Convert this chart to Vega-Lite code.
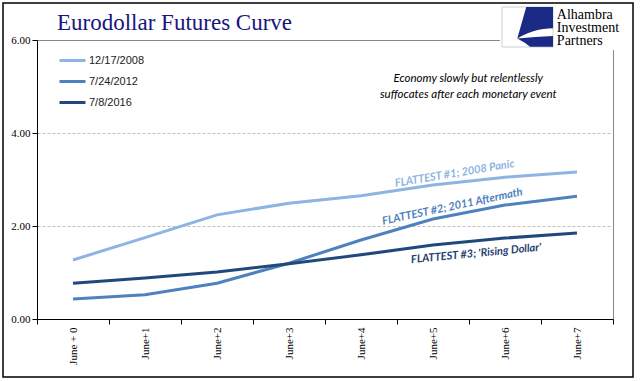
{
  "$schema": "https://vega.github.io/schema/vega-lite/v6.json",
  "width": 576,
  "height": 279,
  "autosize": "none",
  "padding": {"left": 37, "top": 40, "right": 28, "bottom": 62},
  "background": "white",
  "title": {
    "text": "Eurodollar Futures Curve",
    "anchor": "start",
    "frame": "group",
    "dx": 20,
    "dy": 63,
    "offset": 12,
    "baseline": "alphabetic",
    "font": "Liberation Serif",
    "fontSize": 23,
    "fontWeight": "normal",
    "color": "#16167e"
  },
  "config": {
    "view": {"stroke": "#868686", "strokeWidth": 1},
    "axis": {"labelFont": "Liberation Serif", "labelFontSize": 11, "labelColor": "#000000"}
  },
  "layer": [
    {
      "data": {
        "values": [
          {"date": "12/17/2008", "contract": "June + 0", "rate": 1.27},
          {"date": "12/17/2008", "contract": "June+1", "rate": 1.75},
          {"date": "12/17/2008", "contract": "June+2", "rate": 2.24},
          {"date": "12/17/2008", "contract": "June+3", "rate": 2.49},
          {"date": "12/17/2008", "contract": "June+4", "rate": 2.65},
          {"date": "12/17/2008", "contract": "June+5", "rate": 2.88},
          {"date": "12/17/2008", "contract": "June+6", "rate": 3.05},
          {"date": "12/17/2008", "contract": "June+7", "rate": 3.16},
          {"date": "7/24/2012", "contract": "June + 0", "rate": 0.43},
          {"date": "7/24/2012", "contract": "June+1", "rate": 0.52},
          {"date": "7/24/2012", "contract": "June+2", "rate": 0.77},
          {"date": "7/24/2012", "contract": "June+3", "rate": 1.2},
          {"date": "7/24/2012", "contract": "June+4", "rate": 1.7},
          {"date": "7/24/2012", "contract": "June+5", "rate": 2.15},
          {"date": "7/24/2012", "contract": "June+6", "rate": 2.45},
          {"date": "7/24/2012", "contract": "June+7", "rate": 2.64},
          {"date": "7/8/2016", "contract": "June + 0", "rate": 0.77},
          {"date": "7/8/2016", "contract": "June+1", "rate": 0.88},
          {"date": "7/8/2016", "contract": "June+2", "rate": 1.01},
          {"date": "7/8/2016", "contract": "June+3", "rate": 1.19},
          {"date": "7/8/2016", "contract": "June+4", "rate": 1.38},
          {"date": "7/8/2016", "contract": "June+5", "rate": 1.59},
          {"date": "7/8/2016", "contract": "June+6", "rate": 1.74},
          {"date": "7/8/2016", "contract": "June+7", "rate": 1.85}
        ]
      },
      "mark": {"type": "line", "strokeWidth": 3},
      "encoding": {
        "x": {
          "field": "contract",
          "type": "ordinal",
          "sort": null,
          "scale": {"type": "band", "paddingInner": 0, "paddingOuter": 0},
          "axis": {
            "title": null,
            "labelAngle": -90,
            "tickBand": "extent",
            "tickSize": 5,
            "tickColor": "#000000",
            "domainColor": "#000000",
            "labelPadding": 3,
            "grid": false
          }
        },
        "y": {
          "field": "rate",
          "type": "quantitative",
          "scale": {"domain": [0, 6], "nice": false},
          "axis": {
            "title": null,
            "values": [0, 2, 4, 6],
            "format": ".2f",
            "tickSize": 5,
            "tickColor": "#000000",
            "domainColor": "#000000",
            "labelPadding": 2,
            "grid": true,
            "gridColor": {"condition": {"test": "datum.value == 6", "value": "#868686"}, "value": "#c0c0c0"},
            "gridDash": {"condition": {"test": "datum.value == 6", "value": []}, "value": [3, 2]}
          }
        },
        "color": {
          "field": "date",
          "type": "nominal",
          "sort": null,
          "scale": {"domain": ["12/17/2008", "7/24/2012", "7/8/2016"], "range": ["#8db4e2", "#4f81bd", "#1f497d"]},
          "legend": {
            "title": null,
            "orient": "none",
            "legendX": 21,
            "legendY": 6,
            "padding": 0,
            "symbolType": "stroke",
            "symbolSize": 676,
            "symbolStrokeWidth": 3,
            "labelFont": "Liberation Sans",
            "labelFontSize": 11,
            "labelColor": "#1a1a1a",
            "labelOffset": 2,
            "rowPadding": -4
          }
        }
      }
    },
    {
      "data": {"values": [{"label": ""}]},
      "layer": [
        {
          "mark": {"type": "rect", "fill": null, "stroke": "#000000", "strokeWidth": 1.5},
          "encoding": {
            "x": {"datum": -0.972, "type": "quantitative", "scale": {"domain": [-0.5, 7.5], "nice": false, "zero": false}, "axis": null},
            "x2": {"datum": 7.778},
            "y": {"datum": 6.796, "type": "quantitative"},
            "y2": {"datum": -1.247}
          }
        },
        {
          "mark": {"type": "rect", "fill": "#ffffff", "stroke": null},
          "encoding": {
            "x": {"datum": 5.93, "type": "quantitative"},
            "x2": {"datum": 7.74},
            "y": {"datum": 6.75, "type": "quantitative"},
            "y2": {"datum": 5.785}
          }
        },
        {
          "mark": {"type": "rect", "fill": "#ffffff", "stroke": "#cfcfcf", "strokeWidth": 1},
          "encoding": {
            "x": {"datum": 5.958, "type": "quantitative"},
            "x2": {"datum": 6.667},
            "y": {"datum": 6.71, "type": "quantitative"},
            "y2": {"datum": 5.849}
          }
        },
        {
          "mark": {
            "type": "point",
            "filled": true,
            "opacity": 1,
            "color": "#1b2a84",
            "size": 2601,
            "shape": "M -0.05,-0.78 L 1,-0.78 L 1,0.05 C 0.5,0.05 0,0.2 -0.4,0.45 Z M -0.4,0.45 Q 0.3,0.38 1,0.35 L 1,0.78 L 0.1,0.78 Q -0.1,0.6 -0.4,0.45 Z"
          },
          "encoding": {
            "x": {"datum": 6.3125, "type": "quantitative"},
            "y": {"datum": 6.28, "type": "quantitative"}
          }
        },
        {
          "mark": {"type": "text", "align": "left", "baseline": "top", "font": "Liberation Serif", "fontSize": 14, "lineHeight": 13, "color": "#000000", "text": ["Alhambra", "Investment", "Partners"]},
          "encoding": {
            "x": {"datum": 6.72, "type": "quantitative"},
            "y": {"datum": 6.69, "type": "quantitative"}
          }
        },
        {
          "mark": {"type": "text", "align": "center", "baseline": "middle", "font": "Lato", "fontStyle": "italic", "fontSize": 11.5, "lineHeight": 16, "color": "#000000", "text": ["Economy slowly but relentlessly", "suffocates after each monetary event"]},
          "encoding": {
            "x": {"datum": 5.49, "type": "quantitative"},
            "y": {"datum": 5.16, "type": "quantitative"}
          }
        },
        {
          "mark": {"type": "text", "align": "center", "baseline": "middle", "font": "Lato", "fontStyle": "italic", "fontWeight": "bold", "fontSize": 11, "angle": -9.5, "color": "#8db4e2", "text": "FLATTEST #1; 2008 Panic"},
          "encoding": {
            "x": {"datum": 5.3, "type": "quantitative"},
            "y": {"datum": 3.12, "type": "quantitative"}
          }
        },
        {
          "mark": {"type": "text", "align": "center", "baseline": "middle", "font": "Lato", "fontStyle": "italic", "fontWeight": "bold", "fontSize": 11, "angle": -12, "color": "#4f81bd", "text": "FLATTEST #2; 2011 Aftermath"},
          "encoding": {
            "x": {"datum": 5.27, "type": "quantitative"},
            "y": {"datum": 2.41, "type": "quantitative"}
          }
        },
        {
          "mark": {"type": "text", "align": "center", "baseline": "middle", "font": "Lato", "fontStyle": "italic", "fontWeight": "bold", "fontSize": 11, "angle": -5.5, "color": "#1f3d6e", "text": "FLATTEST #3; 'Rising Dollar'"},
          "encoding": {
            "x": {"datum": 5.6, "type": "quantitative"},
            "y": {"datum": 1.4, "type": "quantitative"}
          }
        }
      ]
    }
  ],
  "resolve": {"scale": {"x": "independent"}, "axis": {"x": "independent"}}
}
